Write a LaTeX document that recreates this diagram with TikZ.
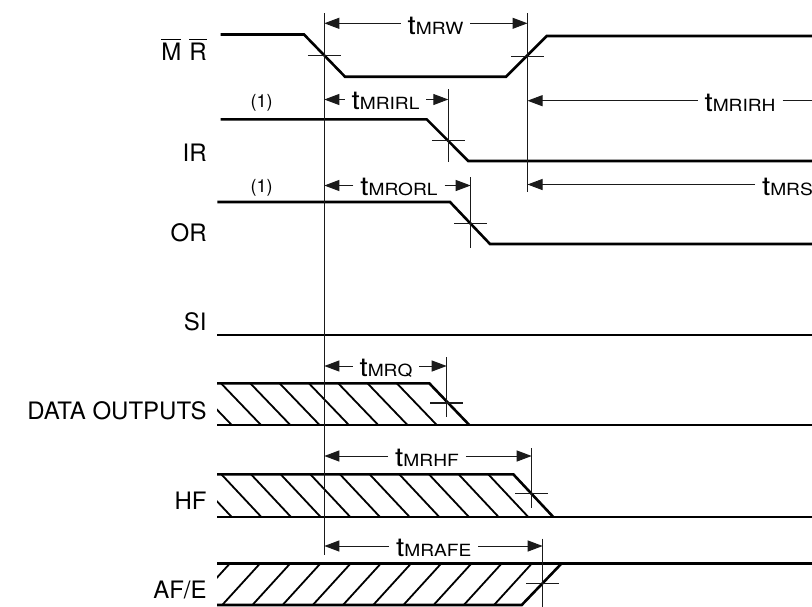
\documentclass[tikz,border=0pt]{standalone}
\usepackage{fontspec}
\setmainfont{TeX Gyre Heros}
\newfontfamily\widesans[FakeStretch=1.14]{TeX Gyre Heros}
\usepackage{tikz}
\usetikzlibrary{arrows.meta}
\definecolor{tdInk}{HTML}{000000}
\definecolor{tdGuide}{HTML}{1A1A1A}
\newcommand{\ovl}[1]{$\overline{\mbox{#1}}$}
\newcommand{\tpar}[1]{t{\fontsize{8.4}{9}\selectfont #1}}
\tikzset{
  signal/.style={
    draw=tdInk, line width=1.3pt
  },
  hatchline/.style={
    draw=tdInk, line width=0.9pt
  },
  guide/.style={
    draw=tdGuide, line width=0.6pt
  },
  dimarrow/.style={
    -{Triangle[length=7.5pt, width=5.5pt]},
    draw=tdGuide, line width=0.5pt
  },
  dimline/.style={
    draw=tdGuide, line width=0.5pt
  },
  siglabel/.style={
    anchor=base east, inner sep=0pt,
    font=\fontsize{12}{14}\selectfont
  },
  timelabel/.style={
    anchor=base, inner xsep=3.3pt, inner ysep=0pt,
    font=\widesans\fontsize{13}{15}\selectfont
  },
  note/.style={
    inner sep=0pt, font=\fontsize{9}{11}\selectfont
  }
}

\begin{document}
\begin{tikzpicture}[x=0.5pt, y=-0.5pt]
  \useasboundingbox (0,0) rectangle (812,606);
  \clip (0,0) rectangle (812,606);

  % edges the timings are taken from
  \coordinate (mrFall) at (324.3,13.3);
  \coordinate (mrRise) at (527.5,13.3);
  \coordinate (irFall) at (448.3,89);
  \coordinate (orFall) at (470.7,177.3);
  \coordinate (dqEnd) at (446.7,357);
  \coordinate (hfEnd) at (531.7,448);
  \coordinate (afEnd) at (542.7,538.7);
  \coordinate (rEdge) at (812,0);

  \node[siglabel] (lblMR) at (207,60) {\ovl{M}\hspace{4pt}\ovl{R}};
  \node[siglabel] (lblIR) at (207,161.9) {IR};
  \node[siglabel] (lblOR) at (207,241.9) {OR};
  \node[siglabel] (lblSI) at (207,330.3) {SI};
  \node[siglabel] (lblDQ) at (207,419.3) {DATA OUTPUTS};
  \node[siglabel] (lblHF) at (207,509.6) {HF};
  \node[siglabel] (lblAF) at (207,598.6) {AF/E};
  \node[note] (noteIR) at (261.7,103.3) {(1)};
  \node[note] (noteOR) at (261.7,187.7) {(1)};

  % hatched (don't care) parts
  \begin{scope}
    \clip (217,383.3) -- (429.3,383.3) -- (469.3,425) -- (217,425) -- cycle;
    \foreach \k in {0,...,7}
      \draw[hatchline] ({231.7+29.3*\k},425) -- ++(-40,-41.7);
  \end{scope}
  \begin{scope}
    \clip (217,474.3) -- (513.3,474.3) -- (553.3,517) -- (217,517) -- cycle;
    \foreach \k in {0,...,10}
      \draw[hatchline] ({231.7+29.66*\k},517) -- ++(-40,-42.7);
  \end{scope}
  \begin{scope}
    \clip (217,563.3) -- (561.7,563.3) -- (521.7,605) -- (217,605) -- cycle;
    \foreach \k in {0,...,10}
      \draw[hatchline] ({230+30.2*\k},563.3) -- ++(-38,41.7);
  \end{scope}

  % waveforms
  \draw[signal] (220.7,34.5) -- (304,34.5) -- (345,76.7) -- (506,76.7) -- (546.7,36) -- (812,36);
  \draw[signal] (220.7,119.3) -- (426.7,119.3) -- (468.3,161) -- (812,161);
  \draw[signal] (217.3,202) -- (450,202) -- (490,244) -- (812,244);
  \draw[signal] (217,335) -- (812,335);
  \draw[signal] (217,383.3) -- (429.3,383.3) -- (469.3,425);
  \draw[signal] (217,425) -- (812,425);
  \draw[signal] (217,474.3) -- (513.3,474.3) -- (553.3,517);
  \draw[signal] (217,517) -- (812,517);
  \draw[signal] (217,563.3) -- (812,563.3);
  \draw[signal] (217,605) -- (521.7,605) -- (561.7,563.3);

  % guides and crossing marks
  \draw[guide] (mrFall) -- ++(0,542);
  \draw[guide] (mrRise) -- ++(0,178.4);
  \draw[guide] (irFall) -- ++(0,72.7);
  \draw[guide] (orFall) -- ++(0,71);
  \draw[guide] (dqEnd) -- ++(0,59.7);
  \draw[guide] (hfEnd) -- ++(0,59.7);
  \draw[guide] (afEnd) -- ++(0,68);
  \foreach \x/\y in {324.3/55.3, 527.5/56.5, 448.3/140.8, 470.7/223.8,
                     446.7/403, 531.7/493.8, 542.7/583.6}
    \draw[guide] (\x-16.5,\y) -- (\x+16.5,\y);

  % timing parameters
  \coordinate (rowW) at (324.3,23.3);
  \coordinate (rowIRL) at (324.3,99.5);
  \coordinate (rowIRH) at (527.5,100.7);
  \coordinate (rowORL) at (324.3,185.5);
  \coordinate (rowS) at (527.5,184.5);
  \coordinate (rowQ) at (324.3,366);
  \coordinate (rowHF) at (324.3,456);
  \coordinate (rowAF) at (324.3,546);

  \node[timelabel] (tMRW) at (435.5,34) {\tpar{MRW}};
  \draw[dimarrow] (tMRW.west |- rowW) -- (rowW);
  \draw[dimarrow] (tMRW.east |- rowW) -- (mrRise |- rowW);

  \node[timelabel] (tMRIRL) at (385.5,109.5) {\tpar{MRIRL}};
  \draw[dimarrow] (tMRIRL.west |- rowIRL) -- (rowIRL);
  \draw[dimarrow] (tMRIRL.east |- rowIRL) -- (irFall |- rowIRL);

  \node[timelabel] (tMRIRH) at (740,111.5) {\tpar{MRIRH}};
  \draw[dimarrow] (tMRIRH.west |- rowIRH) -- (rowIRH);
  \draw[dimline] (tMRIRH.east |- rowIRH) -- (rEdge |- rowIRH);

  \node[timelabel] (tMRORL) at (399,195.5) {\tpar{MRORL}};
  \draw[dimarrow] (tMRORL.west |- rowORL) -- (rowORL);
  \draw[dimarrow] (tMRORL.east |- rowORL) -- (orFall |- rowORL);

  \node[timelabel, anchor=base west] (tMRS) at (755,195) {\tpar{MRS}};
  \draw[dimarrow] (tMRS.west |- rowS) -- (rowS);

  \node[timelabel] (tMRQ) at (386,376.5) {\tpar{MRQ}};
  \draw[dimarrow] (tMRQ.west |- rowQ) -- (rowQ);
  \draw[dimarrow] (tMRQ.east |- rowQ) -- (dqEnd |- rowQ);

  \node[timelabel] (tMRHF) at (427,466.5) {\tpar{MRHF}};
  \draw[dimarrow] (tMRHF.west |- rowHF) -- (rowHF);
  \draw[dimarrow] (tMRHF.east |- rowHF) -- (hfEnd |- rowHF);

  \node[timelabel] (tMRAFE) at (433.7,556.5) {\tpar{MRAFE}};
  \draw[dimarrow] (tMRAFE.west |- rowAF) -- (rowAF);
  \draw[dimarrow] (tMRAFE.east |- rowAF) -- (afEnd |- rowAF);
\end{tikzpicture}
\end{document}
